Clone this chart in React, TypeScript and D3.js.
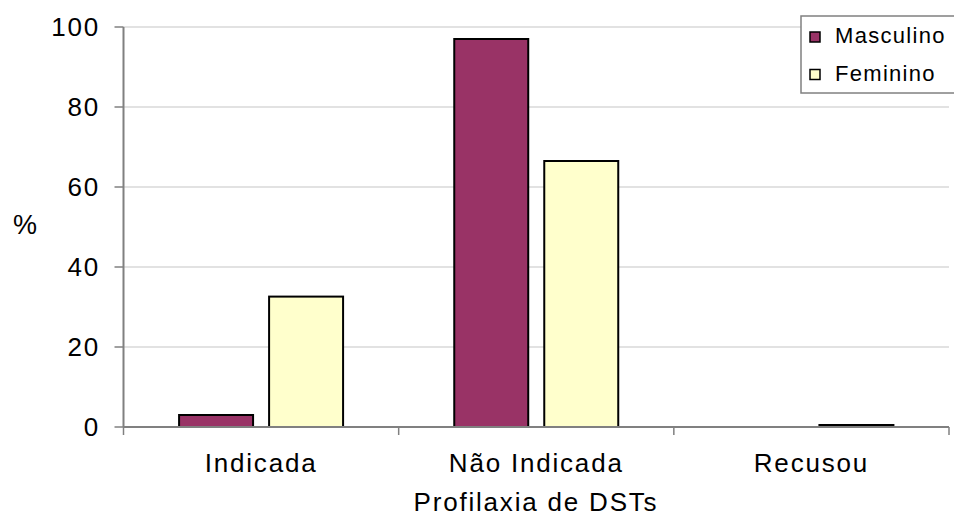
import React from "react";
import * as d3 from "d3";

const categories = ["Indicada", "Não Indicada", "Recusou"];
const seriesNames = ["Masculino", "Feminino"];
const masculino = [3, 97, 0];
const feminino = [32.6, 66.5, 0.5];
const yTicks = [0, 20, 40, 60, 80, 100];
const colors = ["#993366", "#FFFFCC"];
const xTitle = "Profilaxia de DSTs";
const yTitle = "%";

const W = 954;
const H = 519;
const FONT = "'Liberation Sans', Arial, sans-serif";

export default function App() {
  const left = 123.5;
  const right = 949;
  const top = 27;
  const bottom = 427;

  const x0 = d3
    .scaleBand<string>()
    .domain(categories)
    .range([left, right])
    .paddingInner(0.404)
    .paddingOuter(0.202);
  const x1 = d3
    .scaleBand<string>()
    .domain(seriesNames)
    .range([0, x0.bandwidth()])
    .paddingInner(0.178);
  const y = d3.scaleLinear().domain([0, 100]).range([bottom, top]);

  const data = [masculino, feminino];
  const boundaries = d3.range(categories.length + 1).map((i) => left + i * x0.step());

  return (
    <svg
      width={W}
      height={H}
      style={{ position: "absolute", left: 0, top: 0, background: "#fff" }}
      fontFamily={FONT}
    >
      {/* gridlines */}
      {yTicks
        .filter((t) => t > 0)
        .map((t) => (
          <line key={"g" + t} x1={left} x2={right} y1={y(t)} y2={y(t)} stroke="#d9d9d9" strokeWidth={1.5} />
        ))}
      {/* bars */}
      {categories.map((c, ci) =>
        seriesNames.map((s, si) => {
          const v = data[si][ci];
          if (!v) return null;
          return (
            <rect
              key={c + s}
              x={(x0(c) as number) + (x1(s) as number)}
              y={y(v)}
              width={x1.bandwidth()}
              height={y(0) - y(v)}
              fill={colors[si]}
              stroke="#000"
              strokeWidth={2}
            />
          );
        })
      )}
      {/* y axis */}
      <line x1={left} x2={left} y1={top} y2={bottom} stroke="#808080" strokeWidth={2} />
      {yTicks.map((t) => (
        <g key={"t" + t}>
          <line x1={left - 9} x2={left} y1={y(t)} y2={y(t)} stroke="#808080" strokeWidth={1.5} />
          <text
            x={100}
            y={y(t) + 9}
            textAnchor="end"
            fontSize={26}
            letterSpacing={1.8}
            fill="#000"
          >
            {t}
          </text>
        </g>
      ))}
      {/* x axis */}
      <line x1={left} x2={right} y1={bottom} y2={bottom} stroke="#808080" strokeWidth={2} />
      {boundaries.map((b, i) => (
        <line key={"b" + i} x1={b} x2={b} y1={bottom} y2={bottom + 8} stroke="#808080" strokeWidth={1.5} />
      ))}
      {categories.map((c) => (
        <text
          key={"l" + c}
          x={(x0(c) as number) + x0.bandwidth() / 2}
          y={472}
          textAnchor="middle"
          fontSize={26}
          letterSpacing={1.8}
          fill="#000"
        >
          {c}
        </text>
      ))}
      <text x={536} y={511} textAnchor="middle" fontSize={26} letterSpacing={1.8} fill="#000">
        {xTitle}
      </text>
      <text x={25} y={234} textAnchor="middle" fontSize={27} fill="#000">
        {yTitle}
      </text>
      {/* legend */}
      <g>
        <rect x={801} y={16} width={170} height={77} fill="#fff" stroke="#808080" strokeWidth={1.5} />
        {seriesNames.map((s, i) => (
          <g key={"lg" + s} transform={`translate(810, ${32 + i * 37.5})`}>
            <rect x={0} y={0} width={10} height={10} fill={colors[i]} stroke="#000" strokeWidth={1.5} />
            <text x={25} y={11} fontSize={22} letterSpacing={1.3} fill="#000">
              {s}
            </text>
          </g>
        ))}
      </g>
    </svg>
  );
}
